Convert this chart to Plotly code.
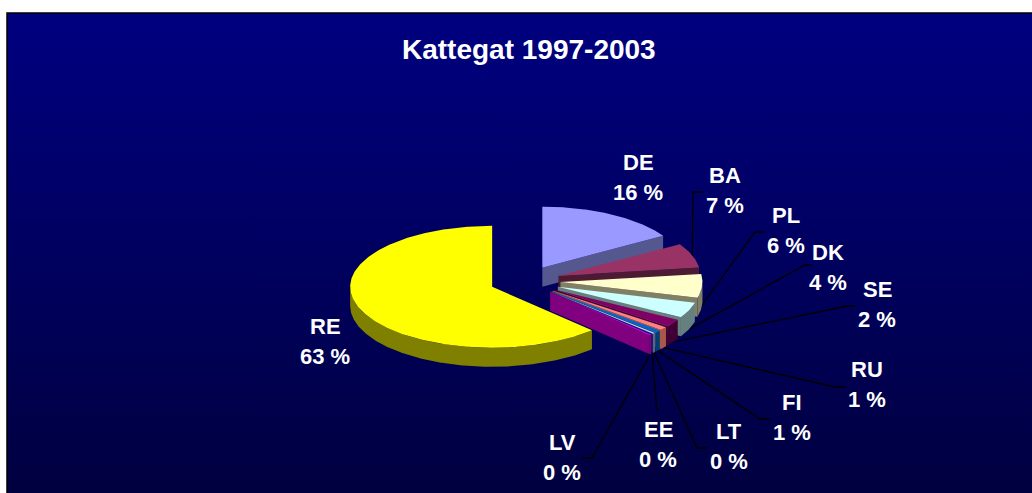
import numpy as np
import plotly.graph_objects as go

# --- data ---
categories = ["DE", "BA", "PL", "DK", "SE", "RU", "FI", "LT", "EE", "LV", "RE"]
shares = [16.2, 6.6, 6.4, 4.1, 2.0, 0.9, 0.7, 0.3, 0.2, 0.2, 62.4]
labels = ["16 %", "7 %", "6 %", "4 %", "2 %", "1 %", "1 %", "0 %", "0 %", "0 %", "63 %"]

# --- styles ---
top_colors = ["#9999FF", "#993366", "#FFFFCC", "#CCFFFF", "#800066", "#FF8080",
              "#0066CC", "#CCCCFF", "#000080", "#FF00FF", "#FFFF00"]
side_colors = ["#55588F", "#4D1A33", "#808066", "#668080", "#400033", "#A85848",
               "#003F70", "#66668F", "#000050", "#800080", "#808000"]

W, H = 1032, 493
CX, CY, RX, RY, DEPTH, EXPLODE = 525.0, 281.0, 142.0, 61.0, 19.0, 0.25


def gdir(deg):
    t = np.radians(deg)
    return np.sin(t) * RX, -np.cos(t) * RY


def quad_trace(xs, ys, color):
    return go.Scatter(x=xs, y=ys, mode="lines", fill="toself", fillcolor=color,
                      line=dict(width=0, color=color), hoverinfo="skip", showlegend=False)


# label centres (name line, value line) and leader elbow points
label_pos = {
    "DE": (638, 162), "BA": (725, 175), "PL": (786, 215), "DK": (828, 252),
    "SE": (877, 289), "RU": (867, 369), "FI": (792, 402), "LT": (729, 431),
    "EE": (658, 429), "LV": (562, 442), "RE": (325, 326),
}
leaders = {
    "BA": [(693, 192), (703, 192)],
    "PL": [(755, 232), (765, 232)],
    "DK": [(805, 265), (812, 265)],
    "SE": [(847, 306), (855, 306)],
    "RU": [(835, 387), (845, 387)],
    "FI": [(760, 419), (770, 419)],
    "LT": [(697, 448), (707, 448)],
    "EE": [(657, 411)],
    "LV": [(592, 458), (582, 458)],
}

fig = go.Figure()

# panel with vertical gradient
fig.add_trace(go.Scatter(
    x=[7, W, W, 7, 7], y=[13, 13, H, H, 13], mode="lines", fill="toself",
    fillgradient=dict(type="vertical", colorscale=[[0, "#000040"], [1, "#000080"]]),
    line=dict(width=0), hoverinfo="skip", showlegend=False))
# panel border (top and left)
fig.add_trace(go.Scatter(x=[7, 7, W], y=[H, 13, 13], mode="lines",
                         line=dict(color="#000000", width=1.5),
                         hoverinfo="skip", showlegend=False))

frac = np.array(shares) / sum(shares) * 360.0
ends = np.cumsum(frac)
starts = ends - frac
anchors = {}
pies = []
for name, a0, a1, top, side in zip(categories, starts, ends, top_colors, side_colors):
    mid = (a0 + a1) / 2
    dx, dy = gdir(mid)
    vx, vy = CX + EXPLODE * dx, CY + EXPLODE * dy
    ax, ay = gdir(mid)
    anchors[name] = (vx + ax, vy + ay + DEPTH)

    # cut face along the clockwise end of the wedge (visible when it faces the viewer)
    if np.sin(np.radians(a1)) > 0:
        ex, ey = gdir(a1)
        pies.append(quad_trace([vx, vx + ex, vx + ex, vx, vx],
                               [vy, vy + ey, vy + ey + DEPTH, vy + DEPTH, vy], side))
    # outer rim
    lo, hi = max(a0, 90.0), min(a1, 270.0)
    if hi > lo:
        th = np.linspace(lo, hi, max(int((hi - lo) * 2), 4))
        rx, ry = gdir(th)
        xs = np.concatenate([vx + rx, (vx + rx)[::-1]])
        ys = np.concatenate([vy + ry, (vy + ry + DEPTH)[::-1]])
        pies.append(quad_trace(xs, ys, side))
    # top face
    th = np.linspace(a0, a1, max(int((a1 - a0) * 2), 4))
    rx, ry = gdir(th)
    pies.append(quad_trace(np.concatenate([[vx], vx + rx, [vx]]),
                           np.concatenate([[vy], vy + ry, [vy]]), top))

# leader lines
for name, pts in leaders.items():
    sx, sy = anchors[name]
    fig.add_trace(go.Scatter(x=[sx] + [p[0] for p in pts], y=[sy] + [p[1] for p in pts],
                             mode="lines", line=dict(color="#000000", width=1.3),
                             hoverinfo="skip", showlegend=False))
fig.add_traces(pies)

ann = [dict(x=528.5, y=49, text="Kattegat 1997-2003", font=dict(size=28))]
for name, lab in zip(categories, labels):
    x, y = label_pos[name]
    ann.append(dict(x=x, y=y, text=name, font=dict(size=22)))
    ann.append(dict(x=x, y=y + 30, text=lab, font=dict(size=22)))
for a in ann:
    a.update(xref="x", yref="y", showarrow=False, xanchor="center", yanchor="middle")
    a["font"].update(color="#FFFFFF", family="Liberation Sans", weight="bold")

fig.update_layout(
    width=W, height=H, margin=dict(l=0, r=0, t=0, b=0),
    paper_bgcolor="#FFFFFF", plot_bgcolor="#FFFFFF", showlegend=False, annotations=ann,
    xaxis=dict(range=[0, W], visible=False, fixedrange=True),
    yaxis=dict(range=[H, 0], visible=False, fixedrange=True),
)
fig.write_html("out.html", config={"displayModeBar": False},
               post_script="document.body.style.margin='0';document.documentElement.style.overflow='hidden';")
